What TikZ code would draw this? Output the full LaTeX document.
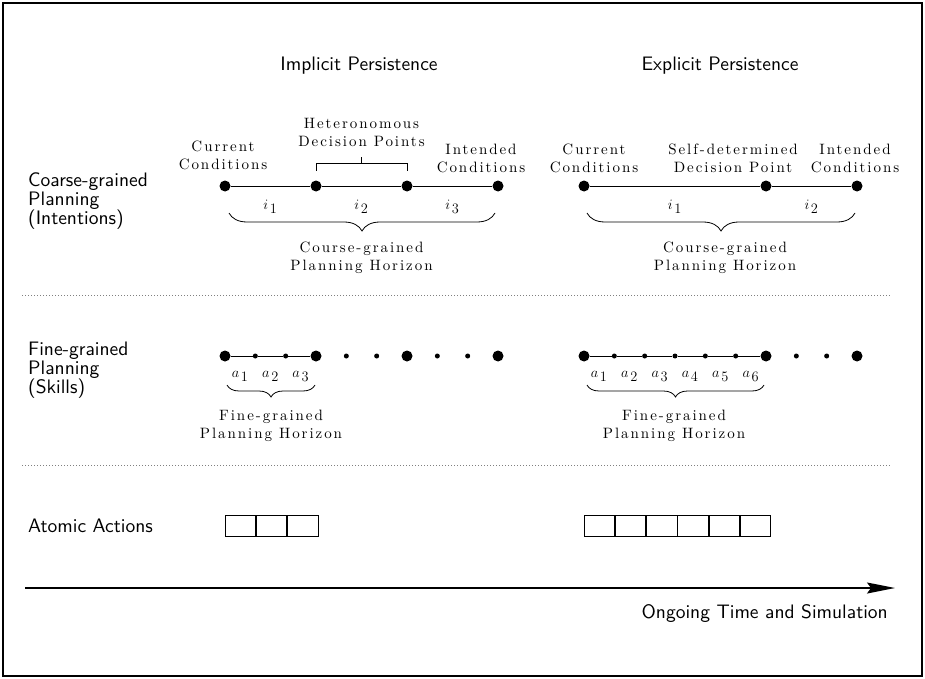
\documentclass[tikz,border=0pt]{standalone}
\usepackage{fontspec}
\newfontfamily\sprm{lmroman10-regular.otf}[LetterSpace=13]
\newfontfamily\sflm{lmsans10-regular.otf}
\usetikzlibrary{decorations.pathreplacing,arrows.meta}
\newcommand{\sbx}[2]{$#1_{\,\textstyle #2}$}
\tikzset{
  x=1pt, y=-1pt,
  sflab/.style={font=\sflm\fontsize{19.5}{19}\selectfont, inner sep=0pt},
  rmlab/.style={font=\sprm\fontsize{15}{18}\selectfont, inner sep=0pt, align=center},
  mlab/.style={font=\fontsize{14.4}{18}\selectfont, inner sep=0pt, anchor=base},
  bigdot/.style={circle, fill=black, inner sep=0pt, minimum size=11pt},
  smalldot/.style={circle, fill=black, inner sep=0pt, minimum size=5pt},
  tline/.style={line width=0.9pt},
  bigbrace/.style={decorate, decoration={brace, mirror, amplitude=18pt}, line width=0.8pt},
  smallbrace/.style={decorate, decoration={brace, mirror, amplitude=12pt}, line width=0.8pt},
  sepline/.style={gray, line width=0.8pt, dash pattern=on 1pt off 2pt},
  abox/.style={draw, line width=0.8pt, minimum width=30.33pt, minimum height=21pt, inner sep=0pt, anchor=west},
}
\begin{document}
\begin{tikzpicture}
\useasboundingbox (0,0) rectangle (925,679);
\draw[line width=2pt] (3,3) rectangle (922,676);

% headings
\node[sflab, anchor=base] (hImp) at (359,71) {Implicit Persistence};
\node[sflab, anchor=base] (hExp) at (720,71) {Explicit Persistence};

% row labels
\node[sflab, anchor=north west, align=left] (lCoarse) at (28,172.5) {Coarse-grained\\Planning\\(Intentions)};
\node[sflab, anchor=north west, align=left] (lFine) at (28,341.5) {Fine-grained\\Planning\\(Skills)};
\node[sflab, anchor=base west] (lAtomic) at (28,532) {Atomic Actions};

% ---------- coarse implicit
\node[bigdot] (c1) at (225,186) {};
\node[bigdot] (c2) at (316,186) {};
\node[bigdot] (c3) at (407,186) {};
\node[bigdot] (c4) at (498,186) {};
\draw[tline] (c1) -- (c2) -- (c3) -- (c4);
\node[rmlab, anchor=south] (tcur1) at (223,170) {Current\\Conditions};
\node[rmlab, anchor=south] (thet) at (361.5,147) {Heteronomous\\Decision Points};
\node[rmlab, anchor=south] (tint1) at (481,173) {Intended\\Conditions};
\draw[line width=0.8pt] (316,171) -- (316,163) -- (407,163) -- (407,171);
\draw[line width=0.8pt] (361.5,163) -- (361.5,157);
\node[mlab] (i11) at (270.5,209) {\sbx{i}{1}};
\node[mlab] (i12) at (361.5,209) {\sbx{i}{2}};
\node[mlab] (i13) at (452.5,209) {\sbx{i}{3}};
\coordinate (b1s) at (229,213);
\coordinate (b1e) at (495,213);
\draw[bigbrace] (b1s) -- (b1e);
\node[rmlab, anchor=north] (hor1) at (361.5,241.5) {Course-grained\\Planning Horizon};

% ---------- coarse explicit
\node[bigdot] (e1) at (584,186) {};
\node[bigdot] (e2) at (766,186) {};
\node[bigdot] (e3) at (857,186) {};
\draw[tline] (e1) -- (e2) -- (e3);
\node[rmlab, anchor=south] (tcur2) at (594,173) {Current\\Conditions};
\node[rmlab, anchor=south] (tself) at (733,173) {Self-determined\\Decision Point};
\node[rmlab, anchor=south] (tint2) at (855,173) {Intended\\Conditions};
\node[mlab] (i21) at (675,209) {\sbx{i}{1}};
\node[mlab] (i22) at (811.5,209) {\sbx{i}{2}};
\coordinate (b2s) at (587,213);
\coordinate (b2e) at (855,213);
\draw[bigbrace] (b2s) -- (b2e);
\node[rmlab, anchor=north] (hor2) at (725,241.5) {Course-grained\\Planning Horizon};

\draw[sepline] (22,295) -- (891,295);

% ---------- fine implicit
\node[bigdot] (f1) at (225,356) {};
\node[smalldot] (f2) at (255.33,356) {};
\node[smalldot] (f3) at (285.67,356) {};
\node[bigdot] (f4) at (316,356) {};
\node[smalldot] (f5) at (346.33,356) {};
\node[smalldot] (f6) at (376.67,356) {};
\node[bigdot] (f7) at (407,356) {};
\node[smalldot] (f8) at (437.33,356) {};
\node[smalldot] (f9) at (467.67,356) {};
\node[bigdot] (f10) at (498,356) {};
\draw[tline] (f1) -- (f2) -- (f3) -- (f4);
\node[mlab] (a11) at (240.2,377) {\sbx{a}{1}};
\node[mlab] (a12) at (270.5,377) {\sbx{a}{2}};
\node[mlab] (a13) at (300.8,377) {\sbx{a}{3}};
\coordinate (b3s) at (227,385);
\coordinate (b3e) at (315,385);
\draw[smallbrace] (b3s) -- (b3e);
\node[rmlab, anchor=north] (hor3) at (271,409.5) {Fine-grained\\Planning Horizon};

% ---------- fine explicit
\node[bigdot] (g1) at (584,356) {};
\node[smalldot] (g2) at (614.33,356) {};
\node[smalldot] (g3) at (644.67,356) {};
\node[smalldot] (g4) at (675,356) {};
\node[smalldot] (g5) at (705.33,356) {};
\node[smalldot] (g6) at (735.67,356) {};
\node[bigdot] (g7) at (766,356) {};
\node[smalldot] (g8) at (796.33,356) {};
\node[smalldot] (g9) at (826.67,356) {};
\node[bigdot] (g10) at (857,356) {};
\draw[tline] (g1) -- (g2) -- (g3) -- (g4) -- (g5) -- (g6) -- (g7);
\node[mlab] (a21) at (599.2,377) {\sbx{a}{1}};
\node[mlab] (a22) at (629.5,377) {\sbx{a}{2}};
\node[mlab] (a23) at (659.8,377) {\sbx{a}{3}};
\node[mlab] (a24) at (690.2,377) {\sbx{a}{4}};
\node[mlab] (a25) at (720.5,377) {\sbx{a}{5}};
\node[mlab] (a26) at (750.8,377) {\sbx{a}{6}};
\coordinate (b4s) at (587,385);
\coordinate (b4e) at (764,385);
\draw[smallbrace] (b4s) -- (b4e);
\node[rmlab, anchor=north] (hor4) at (674,409.5) {Fine-grained\\Planning Horizon};

\draw[sepline] (22,465) -- (891,465);

% ---------- atomic actions
\node[abox] (x1) at (225,525.5) {};
\node[abox] (x2) at (x1.east) {};
\node[abox] (x3) at (x2.east) {};
\node[abox] (y1) at (584,525.5) {};
\node[abox] (y2) at (y1.east) {};
\node[abox] (y3) at (y2.east) {};
\node[abox] (y4) at (y3.east) {};
\node[abox] (y5) at (y4.east) {};
\node[abox] (y6) at (y5.east) {};

% ---------- time arrow
\coordinate (ts) at (25,588);
\coordinate (te) at (895,588);
\draw[line width=1.2pt, -{Stealth[length=28pt,width=11pt,inset=4pt]}] (ts) -- (te);
\node[sflab, anchor=base east] (ltime) at (888,618) {Ongoing Time and Simulation};
\end{tikzpicture}
\end{document}
